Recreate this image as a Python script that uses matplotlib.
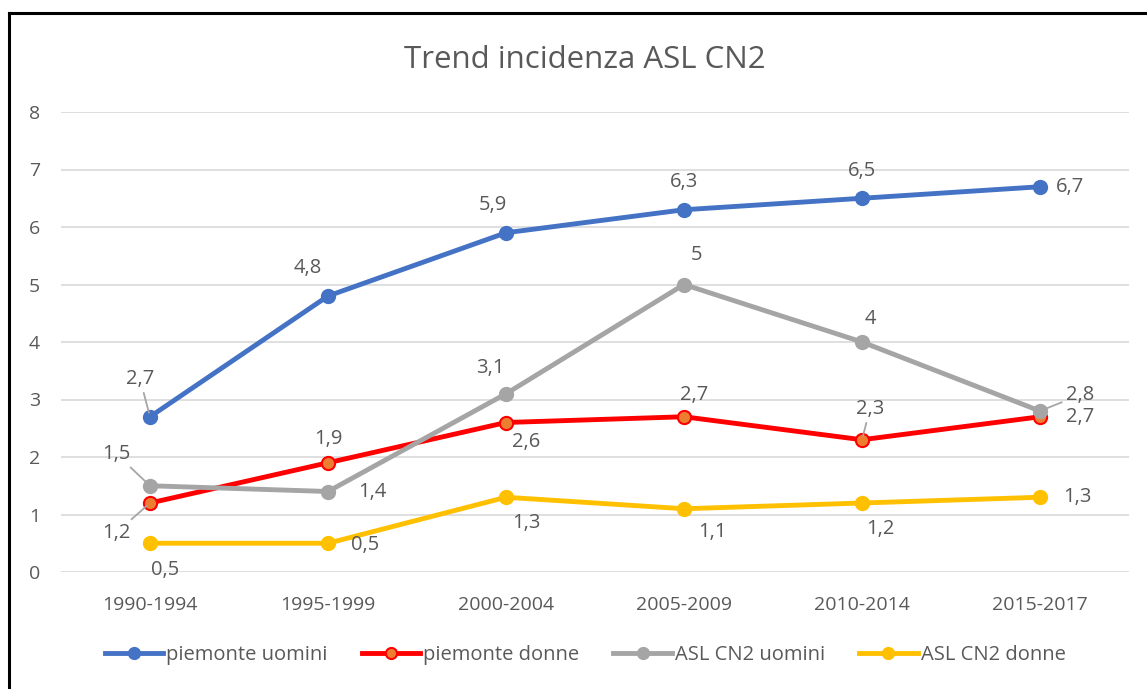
import matplotlib.pyplot as plt
from matplotlib.lines import Line2D

categories = ['1990-1994', '1995-1999', '2000-2004', '2005-2009', '2010-2014', '2015-2017']
piemonte_uomini = [2.7, 4.8, 5.9, 6.3, 6.5, 6.7]
piemonte_donne = [1.2, 1.9, 2.6, 2.7, 2.3, 2.7]
asl_uomini = [1.5, 1.4, 3.1, 5.0, 4.0, 2.8]
asl_donne = [0.5, 0.5, 1.3, 1.1, 1.2, 1.3]
series_names = ['piemonte uomini', 'piemonte donne', 'ASL CN2 uomini', 'ASL CN2 donne']

# label offsets in pixels (dx, dy), leader flag
off_pu = [(-10, 38, True), (-20, 28, False), (-13, 28, False), (0, 28, False), (0, 27, False), (30, 0, False)]
off_pd = [(-34, -30, True), (0, 24, False), (20, -20, False), (10, 22, False), (8, 31, True), (40, 0, False)]
off_au = [(-34, 32, True), (44, 0, False), (-16, 26, False), (13, 29, False), (8, 23, False), (40, 16, True)]
off_ad = [(15, -27, False), (37, -2, False), (20, -26, False), (28, -23, False), (18, -26, False), (37, 0, False)]

txt = '#595959'
font = 'Open Sans'
plt.rcParams['font.family'] = [font, 'DejaVu Sans']

fig = plt.figure(figsize=(11.47, 6.89), dpi=100)
ax = fig.add_axes([61 / 1147, 117 / 689, 1068 / 1147, 460 / 689])

x = list(range(len(categories)))
styles = [
    (piemonte_uomini, '#4472C4', '#4472C4', off_pu),
    (piemonte_donne, '#FF0000', '#ED7D31', off_pd),
    (asl_uomini, '#A5A5A5', '#A5A5A5', off_au),
    (asl_donne, '#FFC000', '#FFC000', off_ad),
]
handles = []
for (vals, col, face, offs), name in zip(styles, series_names):
    ax.plot(x, vals, color=col, lw=3.5, marker='o', ms=9.5, mfc=face, mec=col,
            mew=1.5, zorder=3, solid_capstyle='round')
    handles.append(Line2D([0], [0], color=col, lw=3.5, marker='o', ms=8,
                          mfc=face, mec=col, mew=1.5))
    for xi, v, (dx, dy, lead) in zip(x, vals, offs):
        lab = ('%g' % v).replace('.', ',')
        ap = None
        if lead:
            ap = dict(arrowstyle='-', color='#A6A6A6', lw=1.3, shrinkA=1, shrinkB=3)
        ax.annotate(lab, (xi, v), xytext=(dx, dy), textcoords='offset pixels',
                    ha='center', va='center', fontsize=14.5, color=txt,
                    arrowprops=ap, zorder=4)

ax.set_xlim(-0.5, len(categories) - 0.5)
ax.set_ylim(0, 8)
ax.set_yticks(range(0, 9))
ax.set_xticks(x)
ax.set_xticklabels(categories)
ax.grid(axis='y', color='#D9D9D9', lw=1.2)
ax.set_axisbelow(True)
for s in ax.spines.values():
    s.set_visible(False)
ax.tick_params(length=0, labelsize=14, labelcolor=txt)
ax.tick_params(axis='y', pad=15)
ax.tick_params(axis='x', pad=17)

fig.text(0.51, 0.913, 'Trend incidenza ASL CN2', ha='center', va='center',
         fontsize=22.5, color=txt)

fig.legend(handles, series_names, loc='center', bbox_to_anchor=(0.51, 0.049),
           ncol=4, frameon=False, fontsize=14.5, labelcolor=txt,
           handlelength=2.9, handletextpad=0.15, columnspacing=1.7)

# black frame around the chart (top and left visible)
fig.add_artist(Line2D([9 / 1147, 1], [1 - 13 / 689, 1 - 13 / 689], color='black', lw=2.2,
                      transform=fig.transFigure))
fig.add_artist(Line2D([9 / 1147, 9 / 1147], [0, 1 - 13 / 689], color='black', lw=2.2,
                      transform=fig.transFigure))

plt.savefig('out.png', dpi=100)
